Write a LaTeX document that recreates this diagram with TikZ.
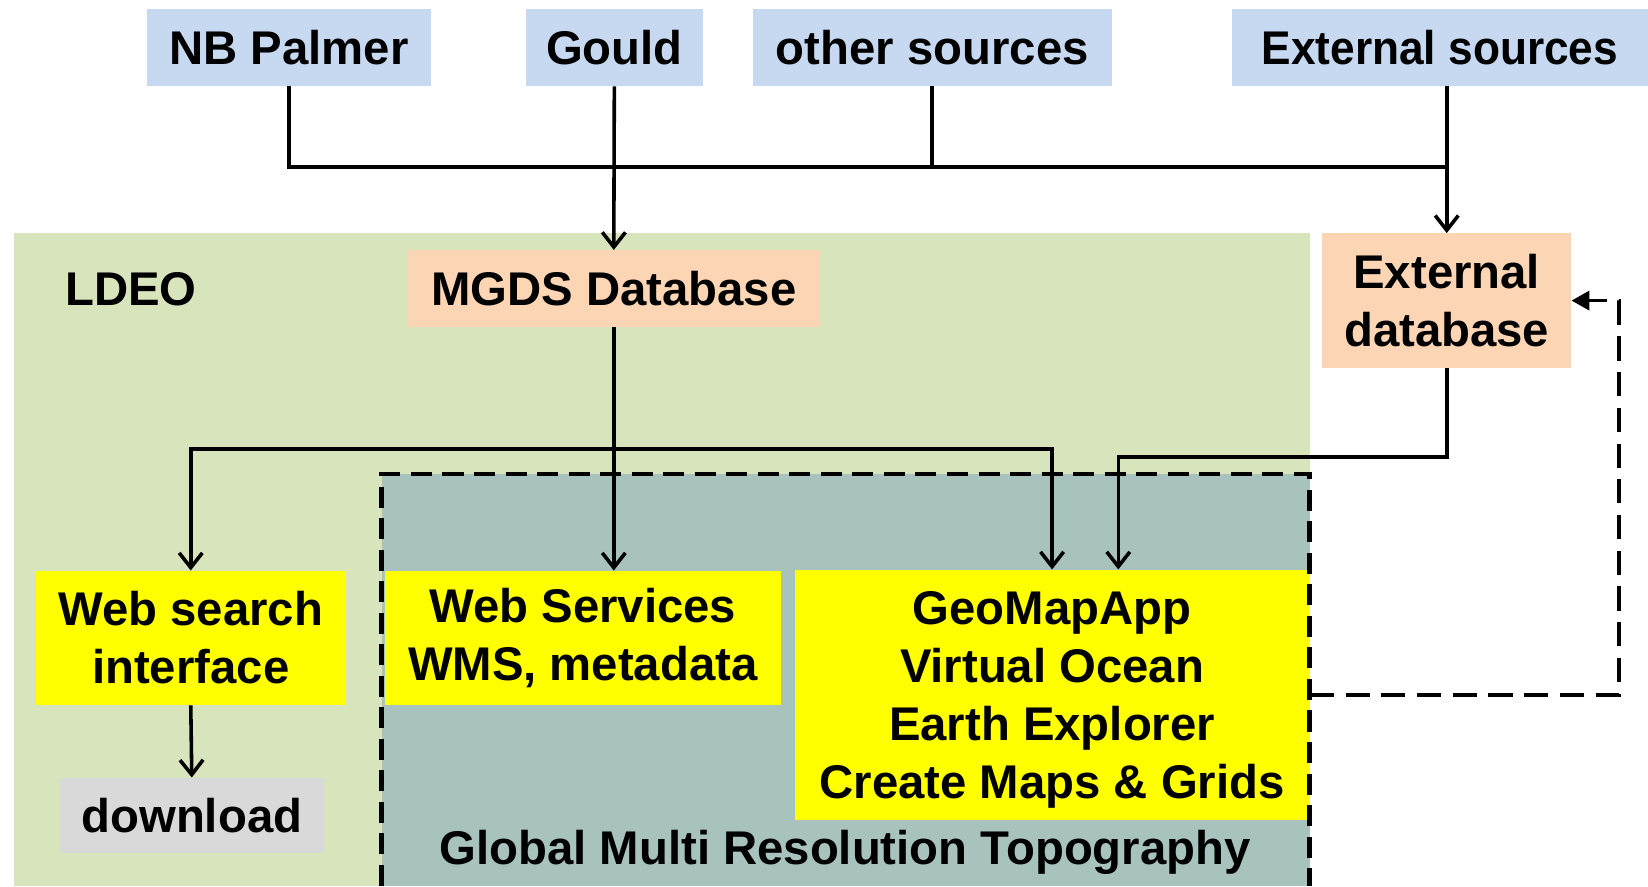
\documentclass[tikz,border=0pt]{standalone}
\usepackage{fontspec}
\setmainfont{Liberation Sans}
\usetikzlibrary{arrows.meta,calc}
\definecolor{srcblue}{RGB}{198,217,241}
\definecolor{peach}{RGB}{252,213,181}
\definecolor{ldeogreen}{RGB}{216,228,188}
\definecolor{gmrtgrey}{RGB}{168,194,190}
\definecolor{dlgrey}{RGB}{217,217,217}
\definecolor{hiyellow}{RGB}{255,255,0}
\tikzset{
  x=1pt,y=1pt,
  boxbase/.style={rectangle,inner sep=0pt,align=center,
    font=\bfseries\fontsize{45}{55}\selectfont},
  srcbox/.style={boxbase,fill=srcblue,minimum height=73pt},
  dbbox/.style={boxbase,fill=peach},
  appbox/.style={boxbase,fill=hiyellow},
  dlbox/.style={boxbase,fill=dlgrey},
  plainlabel/.style={inner sep=0pt,align=center,font=\bfseries\fontsize{45}{55}\selectfont},
  conn/.style={line width=3.4pt},
  arr/.style={conn,-{Straight Barb[length=14pt,width=22pt,line width=3.4pt]}},
  dasharr/.style={line width=3.4pt,dash pattern=on 23pt off 11pt,
    -{Triangle[length=17pt,width=18pt]}},
}
\begin{document}
\begin{tikzpicture}
\useasboundingbox (0,0) rectangle (1568,-843);
% regions
\fill[ldeogreen] (13,-222) rectangle (1246,-843);
\fill[gmrtgrey] (363,-451) rectangle (1246,-843);
% source boxes
\node[srcbox,minimum width=270pt] (nbp) at (275,-45.5) {NB Palmer};
\node[srcbox,minimum width=169pt] (gould) at (584.5,-45.5) {Gould};
\node[srcbox,minimum width=342pt] (other) at (887,-45.5) {other sources};
\node[srcbox,minimum width=396pt] (extsrc) at (1370,-45.5) {\scalebox{0.935}[1]{External sources}};
% databases
\node[dbbox,minimum width=392pt,minimum height=73pt] (mgds) at (584,-274.5) {MGDS Database};
\node[dbbox,minimum width=237pt,minimum height=128pt] (extdb) at (1376.5,-286) {External\\database};
\node[plainlabel,anchor=west] (ldeo) at (62,-275) {LDEO};
% applications
\node[appbox,minimum width=295pt,minimum height=128pt] (web) at (181.5,-607) {Web search\\interface};
\node[appbox,minimum width=377pt,minimum height=128pt] (wsv) at (554.5,-607) {Web Services\\WMS, metadata};
\node[appbox,minimum width=490pt,minimum height=238pt] (geo) at (1001,-661) {};
\node[plainlabel] (geotext) at (1001,-666) {GeoMapApp\\Virtual Ocean\\Earth Explorer\\Create Maps \& Grids};
\node[dlbox,minimum width=251pt,minimum height=72pt] (dl) at (182.5,-776) {download};
\node[plainlabel] (gmrt) at (804,-811) {Global Multi Resolution Topography};
% dashed GMRT border
\draw[line width=4.5pt,dash pattern=on 20pt off 10pt] (363,-843) -- (363,-451) -- (1246,-451) -- (1246,-843);
% connectors from sources
\coordinate (jr) at (1377,-159);
\draw[conn] (nbp.south) |- (jr);
\draw[conn] (other.south) -- (other.south |- jr);
\draw[arr] (gould.south) -- (mgds.north);
\draw[arr] (extdb.north |- extsrc.south) -- (extdb.north);
% connectors from MGDS
\coordinate (mj) at (584,-427);
\draw[arr] (mgds.south) -- (mgds.south |- wsv.north);
\draw[arr] (mj) -| (web.north);
\draw[arr] (mj) -| (geo.north);
% external db to GeoMapApp
\coordinate (geoin) at ($(geo.north)+(63,0)$);
\draw[arr] (extdb.south) |- ($(geoin)+(0,107)$) -- (geoin);
% web search to download
\draw[arr] (web.south) -- (dl.north);
% dashed feedback
\draw[dasharr] (geo.east) -- ++(294,0) |- (extdb.east);
\end{tikzpicture}
\end{document}
